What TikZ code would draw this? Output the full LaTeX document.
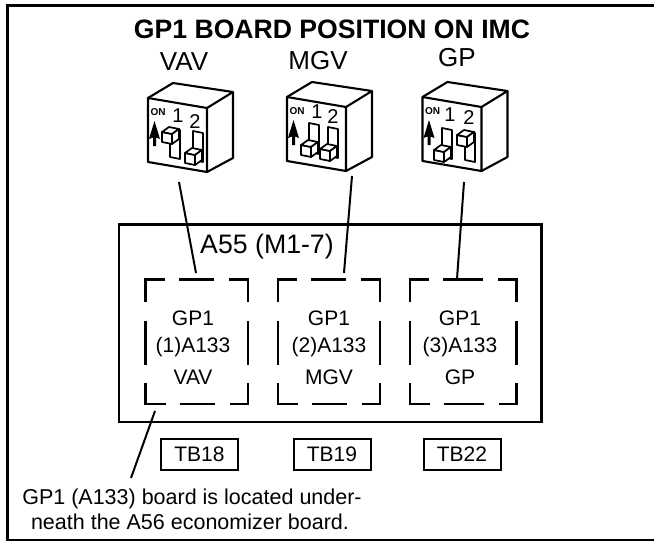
\documentclass[tikz,border=0pt]{standalone}
\usepackage{fontspec}
\setmainfont{Liberation Sans}
\newcommand{\fsz}[1]{\fontsize{#1}{#1}\selectfont}
\tikzset{
  lab/.style={inner sep=0pt,outer sep=0pt,anchor=center},
  frameline/.style={line width=3pt,line join=miter},
  dashline/.style={line width=2.2pt,line join=miter},
  leader/.style={line width=2pt},
  dipline/.style={line width=2.1pt,line join=round},
  togline/.style={line width=1.7pt,line join=round,fill=white},
  tbbox/.style={draw,line width=2pt,minimum width=77pt,minimum height=31pt,inner sep=0pt,outer sep=0pt,font=\fsz{21}},
}
% body of a DIP switch, shifted by #1,#2
\newcommand{\dipbody}[2]{%
  \begin{scope}[shift={(#1,#2)}]
    \draw[dipline] (148,98) -- (207,108) -- (207,172) -- (148,162) -- cycle;
    \draw[dipline] (148,98) -- (173,83) -- (233,92) -- (207,108);
    \draw[dipline] (233,92) -- (233,158) -- (207,172);
    \node[lab,font=\bfseries\fsz{10}] at (158,112) {ON};
    \fill (154.5,121) -- (160,139) -- (156,137.5) -- (156,146) -- (153,146) -- (153,137.5) -- (149,139) -- cycle;
  \end{scope}}
\newcommand{\cube}{%
  \draw[togline] (0,0) -- (10,2) -- (10,12) -- (0,10) -- cycle;
  \draw[togline] (0,0) -- (7,-5) -- (17,-3) -- (10,2) -- cycle;
  \draw[togline] (17,-3) -- (17,7) -- (10,12) -- (10,2) -- cycle;}
\newcommand{\slotup}[2]{%
  \begin{scope}[shift={(#1,#2)}]
    \draw[togline] (0,0) -- (10,2) -- (10,31) -- (0,29) -- cycle;
    \begin{scope}[shift={(-8,4)}]\cube\end{scope}
  \end{scope}}
\newcommand{\slotdown}[2]{%
  \begin{scope}[shift={(#1,#2)}]
    \draw[togline] (0,0) -- (10,2) -- (10,31) -- (0,29) -- cycle;
    \begin{scope}[shift={(-8,22)}]\cube\end{scope}
  \end{scope}}
% dashed board outline: left top right bottom
\newcommand{\boardbox}[4]{%
  \draw[dashline] (#1,#2+22) -- (#1,#2) -- (#1+19,#2);
  \draw[dashline] (#1+33,#2) -- (#3-34,#2);
  \draw[dashline] (#3-19,#2) -- (#3,#2) -- (#3,#2+22);
  \draw[dashline] (#1,#2+41) -- (#1,#2+85);
  \draw[dashline] (#3,#2+41) -- (#3,#2+85);
  \draw[dashline] (#1,#4-21) -- (#1,#4) -- (#1+20,#4);
  \draw[dashline] (#1+34,#4) -- (#3-33,#4);
  \draw[dashline] (#3-18,#4) -- (#3,#4) -- (#3,#4-21);}
\begin{document}
\begin{tikzpicture}[x=1pt,y=-1pt]
\useasboundingbox (0,0) rectangle (654,541);
\fill[white] (0,0) rectangle (654,541);
\draw[frameline] (654,5.5) -- (7.5,5.5) -- (7.5,540) -- (654,540);
\node[lab,font=\bfseries\fsz{26.6}] (title) at (332,29) {GP1 BOARD POSITION ON IMC};
\node[lab,font=\fsz{26}] (vavt) at (184,62) {VAV};
\node[lab,font=\fsz{26}] (mgvt) at (318,61) {MGV};
\node[lab,font=\fsz{26}] (gpt) at (457,58) {GP};
% DIP switches
\dipbody{0}{0}
\node[lab,font=\fsz{20}] (v1) at (178,116) {1};
\node[lab,font=\fsz{20}] (v2) at (195,122) {2};
\slotup{170}{128}
\slotdown{193}{131}
\dipbody{139}{-1}
\node[lab,font=\fsz{20}] (m1) at (317,112) {1};
\node[lab,font=\fsz{20}] (m2) at (333,117) {2};
\slotdown{309}{123}
\slotdown{328}{127}
\dipbody{274.5}{-1}
\node[lab,font=\fsz{20}] (g1) at (450,115) {1};
\node[lab,font=\fsz{20}] (g2) at (469,118) {2};
\slotdown{442}{128}
\slotup{465}{131}
% A55
\node[draw,line width=2.2pt,minimum width=422.5pt,minimum height=197.5pt,inner sep=0pt,outer sep=0pt] (a55) at (330.25,323.25) {};
\node[lab,font=\fsz{26.7}] (a55t) at (267,247) {A55 (M1-7)};
\boardbox{145.5}{279.5}{248}{404}
\boardbox{278}{279.5}{380}{404}
\boardbox{410}{279.5}{516.5}{404}
\foreach \n/\x/\a/\b in {1/193/(1)A133/VAV,2/329/(2)A133/MGV,3/460/(3)A133/GP}{
  \node[lab,font=\fsz{21}] (ga\n) at (\x,318) {GP1};
  \node[lab,font=\fsz{21}] (gb\n) at (\x,347) {\a};
  \node[lab,font=\fsz{21}] (gc\n) at (\x,377) {\b};
}
% terminal blocks
\node[tbbox] (tb18) at (199.5,454.5) {TB18};
\node[tbbox] (tb19) at (332,454.5) {TB19};
\node[tbbox] (tb22) at (462,454.5) {TB22};
% leaders
\coordinate (lv1) at (179,182); \coordinate (lv2) at (196,273);
\coordinate (lm1) at (352,176); \coordinate (lm2) at (344,273);
\coordinate (lg1) at (464,182); \coordinate (lg2) at (457,279);
\coordinate (ln1) at (155,411); \coordinate (ln2) at (131,478);
\draw[leader] (lv1) -- (lv2);
\draw[leader] (lm1) -- (lm2);
\draw[leader] (lg1) -- (lg2);
\draw[leader] (ln1) -- (ln2);
\node[lab,font=\fsz{21.5}] (note1) at (192,499) {GP1 (A133) board is located under-};
\node[lab,font=\fsz{21.5}] (note2) at (190,522) {neath the A56 economizer board.};
\end{tikzpicture}
\end{document}
